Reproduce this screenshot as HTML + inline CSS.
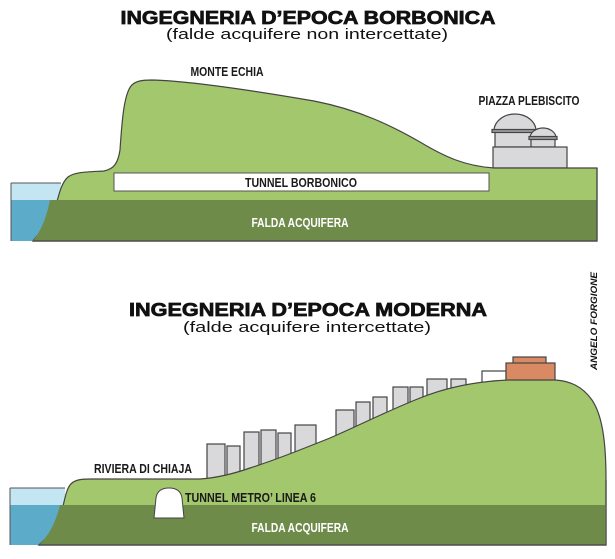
<!DOCTYPE html>
<html><head><meta charset="utf-8"><style>
html,body{margin:0;padding:0;background:#fff;}
svg{display:block;}
.t{font-family:"Liberation Sans",sans-serif;font-weight:bold;font-size:18px;fill:#111;stroke:#111;stroke-width:0.7px;}
.s{font-family:"Liberation Sans",sans-serif;font-size:15px;fill:#111;}
.l{font-family:"Liberation Sans Narrow","Liberation Sans",sans-serif;font-weight:bold;font-size:13px;fill:#1a1a1a;}
.w{fill:#fff;}
</style></head><body>
<svg width="615" height="559" viewBox="0 0 615 559" xmlns="http://www.w3.org/2000/svg">
<!-- TOP -->
<text class="t" x="308" y="24" text-anchor="middle" textLength="375" lengthAdjust="spacingAndGlyphs">INGEGNERIA D’EPOCA BORBONICA</text>
<text class="s" x="307" y="39" text-anchor="middle" textLength="282" lengthAdjust="spacingAndGlyphs">(falde acquifere non intercettate)</text>

<rect x="11" y="183" width="50" height="17" fill="#c4e5f2"/>
<rect x="11" y="200" width="50" height="41" fill="#5cabc8"/>
<path d="M11,183 H61" stroke="#555" stroke-width="1" fill="none"/>
<path d="M11,183 V241" stroke="#555" stroke-width="1"/>
<!-- building -->
<g stroke="#444" stroke-width="1.2" fill="#d9d9dc">
<path d="M494,131 A21,17 0 0 1 536,131 Z"/>
<rect x="495" y="131" width="38" height="16"/>
<rect x="492" y="129.5" width="45" height="3" fill="#9a9a9e"/>
<path d="M530,138 A13,10 0 0 1 556,138 Z"/>
<rect x="531" y="138" width="24" height="9"/>
<rect x="529" y="136.5" width="28" height="3" fill="#9a9a9e"/>
<rect x="493" y="147" width="74" height="21"/>
</g>
<path d="M33,241 C42,230 50,222 54,212 C58,200 60,184 68,177 C74,172 86,172 104,171 C114,169 118,163 120,150 C122,120 124,95 131,86 C135,81 142,80 152,80 C190,81 250,90 314,101 C360,110 392,126 420,142 C445,157 465,166 494,168 L597,168 L597,241 Z" fill="#a3c76d" stroke="#444" stroke-width="1.2"/>
<path d="M50,200 L597,200 L597,241 L33,241 C40,232 46,220 50,200 Z" fill="#6f8b4a"/>
<path d="M33,241 H597 V168" stroke="#444" stroke-width="1.2" fill="none"/>
<rect x="114" y="173" width="375" height="18" fill="#fff" stroke="#555" stroke-width="1"/>
<text class="l" x="301" y="187" text-anchor="middle" textLength="112" lengthAdjust="spacingAndGlyphs">TUNNEL BORBONICO</text>
<text class="l w" x="300" y="227" text-anchor="middle" textLength="97" lengthAdjust="spacingAndGlyphs">FALDA ACQUIFERA</text>
<text class="l" x="227" y="76" text-anchor="middle" textLength="73" lengthAdjust="spacingAndGlyphs">MONTE ECHIA</text>
<text class="l" x="529" y="105" text-anchor="middle" textLength="101" lengthAdjust="spacingAndGlyphs">PIAZZA PLEBISCITO</text>

<!-- signature -->
<text x="0" y="0" transform="translate(597,370) rotate(-90)" font-family="Liberation Sans,sans-serif" font-weight="bold" font-style="italic" font-size="9" fill="#111" textLength="98" lengthAdjust="spacingAndGlyphs">ANGELO FORGIONE</text>

<!-- BOTTOM -->
<text class="t" x="308" y="316" text-anchor="middle" textLength="358" lengthAdjust="spacingAndGlyphs">INGEGNERIA D’EPOCA MODERNA</text>
<text class="s" x="307" y="332" text-anchor="middle" textLength="248" lengthAdjust="spacingAndGlyphs">(falde acquifere intercettate)</text>

<rect x="10" y="488" width="55" height="17" fill="#c4e5f2"/>
<rect x="10" y="505" width="55" height="40" fill="#5cabc8"/>
<path d="M10,488 H65 M10,488 V545" stroke="#555" stroke-width="1" fill="none"/>
<g stroke="#444" stroke-width="1.2" fill="#d9d9dc">
<rect x="207" y="444" width="18" height="50"/>
<rect x="227" y="446" width="13" height="46"/>
<rect x="244" y="432" width="15" height="56"/>
<rect x="261" y="430" width="15" height="55"/>
<rect x="278" y="433" width="13" height="50"/>
<rect x="295" y="425" width="21" height="55"/>
<rect x="336" y="410" width="18" height="55"/>
<rect x="356" y="402" width="14" height="55"/>
<rect x="373" y="397" width="14" height="50"/>
<rect x="393" y="387" width="15" height="50"/>
<rect x="410" y="387" width="13" height="45"/>
<rect x="427" y="379" width="20" height="40"/>
<rect x="451" y="379" width="15" height="30"/>
<rect x="482" y="371" width="24" height="20" fill="#fff"/>
<rect x="513" y="357" width="33" height="7" fill="#d98a62"/>
<rect x="506" y="363" width="49" height="20" fill="#d98a62"/>
</g>
<path d="M39,545 C50,535 56,528 60,518 C64,505 65,492 70,485 C74,480 80,479 90,479 L200,479 C215,478 230,475 250,468 C275,460 300,450 330,438 C360,425 385,412 420,398 C450,386 480,381 510,380 L555,380 C570,381 582,386 592,400 C602,415 606,440 606,480 L606,545 Z" fill="#a3c76d" stroke="#444" stroke-width="1.2"/>
<path d="M60,505 L605,505 L605,545 L39,545 C48,536 55,525 60,505 Z" fill="#6f8b4a"/>
<path d="M39,545 H606 V480" stroke="#444" stroke-width="1.2" fill="none"/>
<path d="M154,518 L156,498 C157,491 162,488 169,488 C176,488 181,491 182,498 L184,518 Z" fill="#fff" stroke="#444" stroke-width="1"/>
<text class="l" x="185" y="502" textLength="131" lengthAdjust="spacingAndGlyphs">TUNNEL METRO’ LINEA 6</text>
<text class="l" x="94" y="473" textLength="98" lengthAdjust="spacingAndGlyphs">RIVIERA DI CHIAJA</text>
<text class="l w" x="300" y="532" text-anchor="middle" textLength="97" lengthAdjust="spacingAndGlyphs">FALDA ACQUIFERA</text>
</svg>
</body></html>
